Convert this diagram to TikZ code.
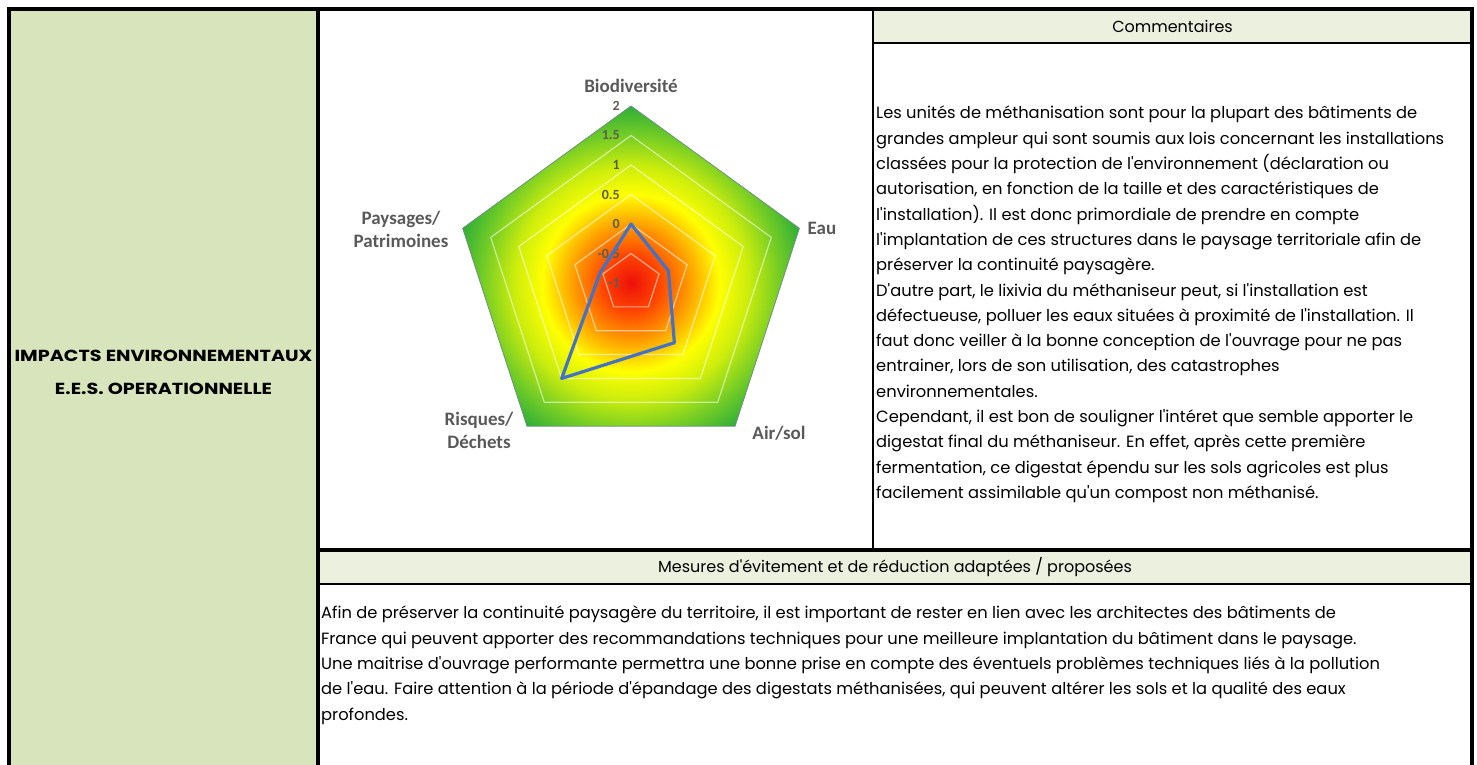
\documentclass[tikz,border=0pt]{standalone}
\usepackage{fontspec}
\usepackage{tikz}
\usepackage{xcolor}
\usetikzlibrary{
    calc,
    positioning
}
\newfontfamily\chartfont{Carlito}
\newfontfamily\gothic{Poppins}
\newfontfamily\gothicwide{Poppins}[FakeStretch=1.2]

\definecolor{cellolive}{HTML}{D8E4BC}
\definecolor{headolive}{HTML}{EBF1DE}
\definecolor{seriesblue}{HTML}{4472C4}
\definecolor{labelgray}{HTML}{595959}
\definecolor{rimgray}{HTML}{6F8F7F}

\pgfdeclareradialshading{radarfill}{\pgfpoint{0bp}{0bp}}{%
    rgb(0bp)=(0.93,0.06,0.04);
    rgb(4bp)=(1,0.27,0);
    rgb(8bp)=(1,0.6,0);
    rgb(12.5bp)=(1,1,0);
    rgb(16.5bp)=(0.8,0.93,0.05);
    rgb(21bp)=(0.45,0.8,0.15);
    rgb(25bp)=(0.18,0.68,0.22);
    rgb(50bp)=(0.18,0.68,0.22)}

\tikzset{
    celltext/.style={font=\gothic\fontsize{16.3}{25.3}\selectfont, align=left, inner sep=0pt},
    headtext/.style={font=\gothic\fontsize{16}{20}\selectfont, inner sep=0pt},
    sidetext/.style={font=\gothicwide\bfseries\fontsize{16}{33}\selectfont, align=center, inner sep=0pt},
    axisname/.style={font=\chartfont\bfseries\fontsize{19}{23}\selectfont, text=labelgray, align=center, inner sep=0pt},
    ringvalue/.style={font=\chartfont\bfseries\fontsize{14}{15}\selectfont, text=labelgray!90!olive, anchor=east, inner sep=0pt},
    ring/.style={draw=white, draw opacity=0.55, line width=1.2pt},
    heavy/.style={line width=3.5pt}
}

\begin{document}
\begin{tikzpicture}[x=1pt, y=1pt]
    \useasboundingbox (0,0) rectangle (1477,765);

    \fill[cellolive] (9,0) rectangle (318,756);
    \fill[headolive] (873,722) rectangle (1472,756);
    \fill[headolive] (318,181) rectangle (1472,215);

    \draw[heavy, line join=miter] (9,0) -- (9,756) -- (1472,756) -- (1472,0);
    \draw[heavy] (318,0) -- (318,756);
    \draw[heavy] (318,215) -- (1472,215);
    \draw[line width=2pt] (873,215) -- (873,756);
    \draw[line width=1.3pt]
    (873,722) edge (1472,722)
    (318,181) edge (1472,181);

    \node[sidetext] (impacts) at (163.5,393) {IMPACTS ENVIRONNEMENTAUX\\E.E.S. OPERATIONNELLE};

    \node[headtext] (comhead) at (1172.5,739) {Commentaires};
    \node[headtext] (mesurehead) at (895,198) {Mesures d'évitement et de réduction adaptées / proposées};

    \node[celltext, anchor=north west] (comtext) at (876,659) {%
        Les unités de méthanisation sont pour la plupart des bâtiments de\\
        grandes ampleur qui sont soumis aux lois concernant les installations\\
        classées pour la protection de l'environnement (déclaration ou\\
        autorisation, en fonction de la taille et des caractéristiques de\\
        l'installation). Il est donc primordiale de prendre en compte\\
        l'implantation de ces structures dans le paysage territoriale afin de\\
        préserver la continuité paysagère.\\
        D'autre part, le lixivia du méthaniseur peut, si l'installation est\\
        défectueuse, polluer les eaux situées à proximité de l'installation. Il\\
        faut donc veiller à la bonne conception de l'ouvrage pour ne pas\\
        entrainer, lors de son utilisation, des catastrophes\\
        environnementales.\\
        Cependant, il est bon de souligner l'intéret que semble apporter le\\
        digestat final du méthaniseur. En effet, après cette première\\
        fermentation, ce digestat épendu sur les sols agricoles est plus\\
        facilement assimilable qu'un compost non méthanisé.};

    \node[celltext, anchor=north west] (mesuretext) at (321,159) {%
        Afin de préserver la continuité paysagère du territoire, il est important de rester en lien avec les architectes des bâtiments de\\
        France qui peuvent apporter des recommandations techniques pour une meilleure implantation du bâtiment dans le paysage.\\
        Une maitrise d'ouvrage performante permettra une bonne prise en compte des éventuels problèmes techniques liés à la pollution\\
        de l'eau. Faire attention à la période d'épandage des digestats méthanisées, qui peuvent altérer les sols et la qualité des eaux\\
        profondes.};

    \begin{scope}[shift={(631,482)}]
        \begin{scope}
            \clip (90:177) -- (18:177) -- (-54:177) -- (-126:177) -- (162:177) -- cycle;
            \shade[shading=radarfill] (0,0) circle (177);
        \end{scope}
        \foreach \r in {29.5,59,88.5,118,147.5}
            \draw[ring] (90:\r) -- (18:\r) -- (-54:\r) -- (-126:\r) -- (162:\r) -- cycle;
        \draw[rimgray, line width=0.8pt] (90:177) -- (18:177) -- (-54:177) -- (-126:177) -- (162:177) -- cycle;

        \foreach \v [count=\k from 0] in {-1,-0.5,0,0.5,1,1.5,2}
            \node[ringvalue] (val\k) at (-11,\k*29.5) {\v};

        \draw[seriesblue, line width=3.2pt, line join=round]
        (90:59) -- (18:39.3) -- (-54:73.8) -- (-126:118) -- (162:32.5) -- cycle;

        \node[axisname] (biodiv) at (0,197) {Biodiversité};
        \node[axisname] (eau) at (191,55) {Eau};
        \node[axisname] (airsol) at (148,-150) {Air/sol};
        \node[axisname] (risques) at (-152,-147) {Risques/\\Déchets};
        \node[axisname] (paysages) at (-230,54) {Paysages/\\Patrimoines};
    \end{scope}
\end{tikzpicture}
\end{document}
